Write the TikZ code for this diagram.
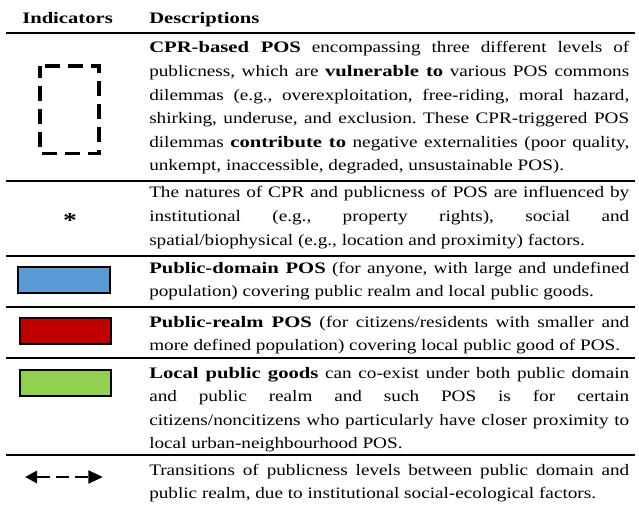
\documentclass[tikz,border=0pt]{standalone}
\usepackage{fontspec}
\setmainfont{Liberation Serif}[FakeStretch=1.2]
\newfontfamily\bfamx[FakeStretch=1.29]{Liberation Serif}
\newcommand\bdx[1]{{\bfamx\bfseries #1}}
\usetikzlibrary{arrows.meta}
\definecolor{domblue}{HTML}{5B9BD5}
\definecolor{realmred}{HTML}{C00000}
\definecolor{localgreen}{HTML}{92D050}
\begin{document}
\begin{tikzpicture}[x=0.75pt,y=-0.75pt,
  rulex/.style={line width=1.5pt},
  desc/.style={anchor=base west, inner sep=0pt, text width=360pt, align=justify,
    font={\fontsize{12}{17.7}\selectfont\frenchspacing\tolerance=10000\hyphenpenalty=10000}},
  head/.style={anchor=base west, inner sep=0pt, font=\fontsize{12}{15}\selectfont},
  swatch/.style={draw=black, line width=1.5pt},
  cprbox/.style={draw=black, line width=2.6pt, dash pattern=on 11.25pt off 6pt, dash phase=13.5pt},
  transarrow/.style={line width=2.2pt, dash pattern=on 10pt off 4.5pt,
    {Triangle[length=9pt,width=9pt]}-{Triangle[length=11pt,width=9.5pt]}}
]
\useasboundingbox (0,0) rectangle (639,506);

% header
\node[head] (hind) at (22,24) {\bdx{Indicators}};
\node[head] (hdesc) at (149,24) {\bdx{Descriptions}};

% rules
\draw[rulex] (6,33) -- (635,33);
\draw[rulex] (6,181) -- (635,181);
\draw[rulex] (6,256) -- (635,256);
\draw[rulex] (6,307) -- (635,307);
\draw[rulex] (6,358) -- (635,358);
\draw[rulex] (6,455) -- (635,455);

% indicators
\draw[cprbox] (40,66) -- (99,66) -- (99,153.5) -- (40,153.5) -- cycle;
\node[inner sep=0pt, anchor=base, font=\fontsize{16}{18}\selectfont] (star) at (70,228) {\bdx{*}};
\draw[swatch, fill=domblue] (18,267) rectangle (110,293);
\draw[swatch, fill=realmred] (20,318) rectangle (111,344);
\draw[swatch, fill=localgreen] (20,370) rectangle (111,396);
\coordinate (al) at (25,477);
\coordinate (ar) at (103,477);
\draw[transarrow] (al) -- (ar);

% descriptions
\node[desc] (d1) at (149,53) {\bdx{CPR-based POS} encompassing three different levels of\linebreak
publicness, which are \bdx{vulnerable to} various POS commons\linebreak
dilemmas (e.g., overexploitation, free-riding, moral hazard,\linebreak
shirking, underuse, and exclusion. These CPR-triggered POS\linebreak
dilemmas \bdx{contribute to} negative externalities (poor quality,\linebreak
unkempt, inaccessible, degraded, unsustainable POS).};

\node[desc] (d2) at (149,198) {The natures of CPR and publicness of POS are influenced by\linebreak
institutional (e.g., property rights), social and\linebreak
spatial/biophysical (e.g., location and proximity) factors.};

\node[desc] (d3) at (149,273) {\bdx{Public-domain POS} (for anyone, with large and undefined\linebreak
population) covering public realm and local public goods.};

\node[desc] (d4) at (149,327) {\bdx{Public-realm POS} (for citizens/residents with smaller and\linebreak
more defined population) covering local public good of POS.};

\node[desc] (d5) at (149,378) {\bdx{Local public goods} can co-exist under both public domain\linebreak
and public realm and such POS is for certain\linebreak
citizens/noncitizens who particularly have closer proximity to\linebreak
local urban-neighbourhood POS.};

\node[desc] (d6) at (149,475) {Transitions of publicness levels between public domain and\linebreak
public realm, due to institutional social-ecological factors.};
\end{tikzpicture}
\end{document}
